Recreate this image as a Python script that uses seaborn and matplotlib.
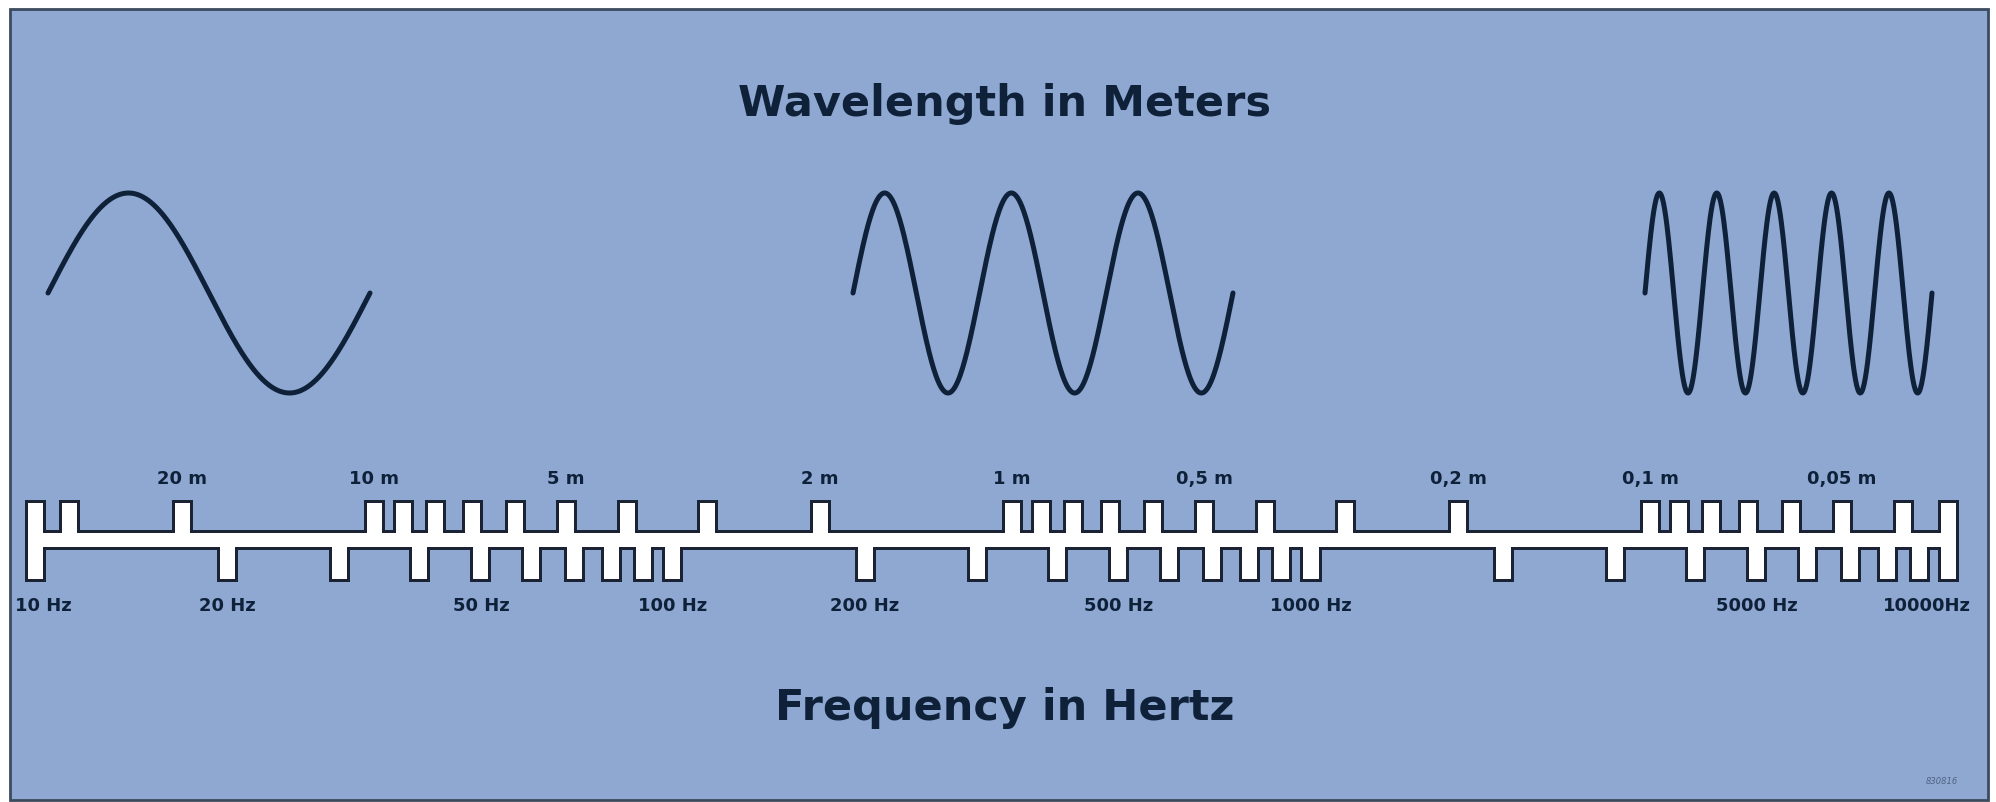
import numpy as np
import matplotlib
matplotlib.use("Agg")
import matplotlib.pyplot as plt
from matplotlib.patches import Rectangle
import seaborn as sns

# frequency marks along the scale (Hz)
freq_ticks = [10, 20, 30, 40, 50, 60, 70, 80, 90,
              100, 200, 300, 400, 500, 600, 700, 800, 900,
              1000, 2000, 3000, 4000, 5000, 6000, 7000, 8000, 9000, 10000]
freq_labels = [10, 20, 50, 100, 200, 500, 1000, 5000, 10000]
freq_label_text = ["10 Hz", "20 Hz", "50 Hz", "100 Hz", "200 Hz",
                   "500 Hz", "1000 Hz", "5000 Hz", "10000Hz"]

# wavelength marks (m) for sound in air
wave_ticks = [30, 20, 10, 9, 8, 7, 6, 5, 4, 3, 2,
              1, 0.9, 0.8, 0.7, 0.6, 0.5, 0.4, 0.3, 0.2,
              0.1, 0.09, 0.08, 0.07, 0.06, 0.05, 0.04]
wave_labels = [20, 10, 5, 2, 1, 0.5, 0.2, 0.1, 0.05]
wave_label_text = ["20 m", "10 m", "5 m", "2 m", "1 m",
                   "0,5 m", "0,2 m", "0,1 m", "0,05 m"]
SPEED = 340.0  # m/s

# the three example waves: number of full cycles
wave_cycles = [1, 3, 5]

# layout (pixels of the 1996 x 802 picture)
W, H = 1996, 802
PX_10HZ, PX_10KHZ = 35, 1949
wave_x0 = [48, 853, 1645]
wave_x1 = [370, 1233, 1932]
WAVE_MID, WAVE_AMP = 293, 100

BLUE = "#8ea8d2"
INK = "#0e2138"
EDGE = "#1a2233"

sns.set_theme(style="white")
plt.rcParams["font.family"] = ["DejaVu Sans"]

fig = plt.figure(figsize=(W / 100, H / 100), dpi=100, facecolor="white")

# background / drawing layer in pixel units
ax_bg = fig.add_axes([0, 0, 1, 1])
ax_bg.set_xlim(0, W)
ax_bg.set_ylim(H, 0)
ax_bg.axis("off")
ax_bg.add_patch(Rectangle((10, 9), 1978, 791, facecolor=BLUE,
                          edgecolor="#3b4a5e", linewidth=2))

for n, x0, x1 in zip(wave_cycles, wave_x0, wave_x1):
    t = np.linspace(0, 1, 500)
    xs = x0 + (x1 - x0) * t
    ys = WAVE_MID - WAVE_AMP * np.sin(2 * np.pi * n * t)
    sns.lineplot(x=xs, y=ys, ax=ax_bg, color=INK, linewidth=3.6,
                 estimator=None, sort=False)

ax_bg.text(1005, 104, "Wavelength in Meters", ha="center", va="center",
           fontsize=31, fontweight="bold", color=INK)
ax_bg.text(1005, 708, "Frequency in Hertz", ha="center", va="center",
           fontsize=31, fontweight="bold", color=INK)
ax_bg.text(1942, 782, "830816", ha="center", va="center", fontsize=6,
           style="italic", color="#51627f")

# scale layer: log frequency axis
ax = fig.add_axes([0, 0, 1, 1])
ax.patch.set_alpha(0)
ax.set_xscale("log")
dec = (PX_10KHZ - PX_10HZ) / 3.0
ax.set_xlim(10 ** (1 - PX_10HZ / dec), 10 ** (4 + (W - PX_10KHZ) / dec))
ax.set_ylim(H, 0)
ax.axis("off")

hw = 7.5 / dec  # half tick width in decades
f_up = np.array([SPEED / w for w in wave_ticks] + [freq_ticks[0], freq_ticks[-1]])
f_dn = np.array(freq_ticks, dtype=float)


def boxes(freqs, y0, y1, **kw):
    left = freqs * 10 ** (-hw)
    right = freqs * 10 ** hw
    ax.bar(left, y1 - y0, width=right - left, bottom=y0, align="edge", **kw)


def scale(**kw):
    ax.bar(freq_ticks[0], 14, width=freq_ticks[-1] - freq_ticks[0], bottom=533,
           align="edge", **kw)
    boxes(f_up, 503, 540, **kw)
    boxes(f_dn, 540, 579, **kw)


scale(color=EDGE, edgecolor=EDGE, linewidth=4.3)
scale(color="white", linewidth=0)

for f, lab in zip(freq_labels, freq_label_text):
    ha = "center"
    x = f
    if f == freq_labels[0]:
        ha, x = "left", f * 10 ** (-20 / dec)
    elif f == freq_labels[-1]:
        ha, x = "right", f * 10 ** (22 / dec)
    ax.text(x, 606, lab, ha=ha, va="center", fontsize=13,
            fontweight="bold", color=INK)

for w, lab in zip(wave_labels, wave_label_text):
    ax.text(SPEED / w, 479, lab, ha="center", va="center", fontsize=13,
            fontweight="bold", color=INK)

fig.savefig("out.png", dpi=100, facecolor="white")
